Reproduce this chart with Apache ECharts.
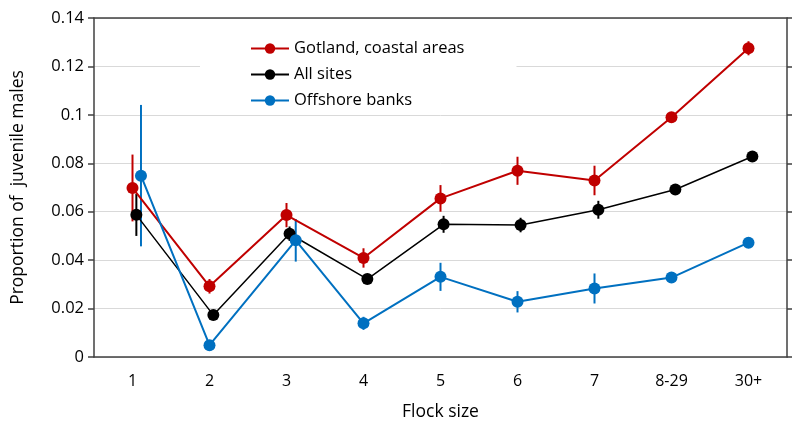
<!DOCTYPE html>
<html>
<head>
<meta charset="utf-8">
<script src="https://cdn.jsdelivr.net/npm/echarts@6/dist/echarts.min.js"></script>
<style>
  html, body { margin: 0; padding: 0; background: #fff; }
  #chart { width: 795px; height: 421px; }
</style>
</head>
<body>
<div id="chart"></div>
<script>
// Flock size classes
const categories = ['1', '2', '3', '4', '5', '6', '7', '8-29', '30+'];

// Proportion of juvenile males, with half-length of the error bar
const gotland = [0.0698, 0.0292, 0.0586, 0.0409, 0.0655, 0.0769, 0.0729, 0.0990, 0.1275];
const gotlandErr = [0.0138, 0.0030, 0.0050, 0.0040, 0.0055, 0.0058, 0.0061, 0.0008, 0.0029];

const allSites = [0.0587, 0.0173, 0.0509, 0.0322, 0.0548, 0.0545, 0.0608, 0.0692, 0.0828];
const allSitesErr = [0.0087, 0.0010, 0.0030, 0.0010, 0.0035, 0.0030, 0.0037, 0.0010, 0.0010];

const offshore = [0.0749, 0.0049, 0.0482, 0.0139, 0.0331, 0.0228, 0.0283, 0.0328, 0.0472];
const offshoreErr = [0.0292, 0.0010, 0.0088, 0.0027, 0.0058, 0.0044, 0.0062, 0.0010, 0.0022];

const yTicks = { min: 0, max: 0.14, step: 0.02 };

// Small horizontal nudges (in category units) so overlapping points stay readable
const nudge = {
  gotland: [0, 0, 0, 0, 0, 0, 0, 0, 0],
  allSites: [0.05, 0.05, 0.04, 0.05, 0.04, 0.04, 0.05, 0.05, 0.05],
  offshore: [0.11, 0, 0.12, 0, 0, 0, 0, 0, 0]
};

const FONT = 'Open Sans';
const AXIS_COLOR = '#404040';

function points(vals, off) {
  return vals.map((v, i) => [i + off[i], v]);
}
function errPoints(vals, errs, off) {
  return vals.map((v, i) => [i + off[i], v, errs[i]]);
}

function errorBars(name, color, vals, errs, off) {
  return {
    type: 'custom',
    name: name + ' error',
    xAxisIndex: 1,
    yAxisIndex: 0,
    silent: true,
    legendHoverLink: false,
    data: errPoints(vals, errs, off),
    renderItem: function (params, api) {
      const x = api.value(0), y = api.value(1), e = api.value(2);
      const top = api.coord([x, y + e]);
      const bot = api.coord([x, y - e]);
      return {
        type: 'line',
        shape: { x1: top[0], y1: top[1], x2: bot[0], y2: bot[1] },
        style: { stroke: color, lineWidth: 2 }
      };
    },
    z: 2
  };
}

function lineSeries(name, color, vals, off, lw) {
  return {
    type: 'line',
    name: name,
    xAxisIndex: 1,
    yAxisIndex: 0,
    data: points(vals, off),
    symbol: 'circle',
    symbolSize: 12,
    showSymbol: true,
    lineStyle: { color: color, width: lw },
    itemStyle: { color: color },
    emphasis: { disabled: true },
    animation: false,
    z: 3
  };
}

const chart = echarts.init(document.getElementById('chart'), null, { renderer: 'canvas' });

chart.setOption({
  animation: false,
  backgroundColor: '#fff',
  textStyle: { fontFamily: FONT },
  grid: { left: 94, right: 8, top: 18, bottom: 64, containLabel: false, outerBoundsMode: 'none' },
  legend: {
    orient: 'vertical',
    left: 200,
    top: 34,
    padding: [6, 52, 6, 50],
    backgroundColor: '#fff',
    itemWidth: 38,
    itemHeight: 13,
    itemGap: 9,
    textStyle: { fontFamily: FONT, fontSize: 16.5, color: '#000' },
    data: ['Gotland, coastal areas', 'All sites', 'Offshore banks']
  },
  xAxis: [
    {
      type: 'category',
      data: categories,
      position: 'bottom',
      boundaryGap: true,
      axisLine: { show: true, onZero: false, lineStyle: { color: AXIS_COLOR, width: 1.5 } },
      axisTick: { show: false },
      axisLabel: { fontFamily: FONT, fontSize: 16, color: '#000', margin: 16 },
      splitLine: { show: false },
      name: 'Flock size',
      nameLocation: 'middle',
      nameGap: 46,
      nameTextStyle: { fontFamily: FONT, fontSize: 17.5, color: '#000' }
    },
    {
      type: 'value',
      min: -0.5,
      max: 8.5,
      show: false
    },
    {
      type: 'category',
      data: categories,
      position: 'top',
      axisLine: { show: true, onZero: false, lineStyle: { color: AXIS_COLOR, width: 1.5 } },
      axisTick: { show: false },
      axisLabel: { show: false },
      splitLine: { show: false }
    }
  ],
  yAxis: [
    {
      type: 'value',
      position: 'left',
      min: yTicks.min,
      max: yTicks.max,
      interval: yTicks.step,
      axisLine: { show: true, onZero: false, lineStyle: { color: AXIS_COLOR, width: 1.5 } },
      axisTick: { show: true, length: 6, lineStyle: { color: AXIS_COLOR, width: 1.5 } },
      axisLabel: { fontFamily: FONT, fontSize: 16.5, color: '#000', margin: 10 },
      splitLine: { show: true, lineStyle: { color: '#d9d9d9', width: 1 } },
      name: 'Proportion of  juvenile males',
      nameLocation: 'middle',
      nameGap: 67,
      nameRotate: 90,
      nameTextStyle: { fontFamily: FONT, fontSize: 17.5, color: '#000' }
    },
    {
      type: 'value',
      position: 'right',
      min: yTicks.min,
      max: yTicks.max,
      interval: yTicks.step,
      axisLine: { show: true, onZero: false, lineStyle: { color: AXIS_COLOR, width: 1.5 } },
      axisTick: { show: true, length: 5, lineStyle: { color: AXIS_COLOR, width: 1.5 } },
      axisLabel: { show: false },
      splitLine: { show: false }
    }
  ],
  series: [
    errorBars('Gotland, coastal areas', '#C00000', gotland, gotlandErr, nudge.gotland),
    lineSeries('Gotland, coastal areas', '#C00000', gotland, nudge.gotland, 2),
    errorBars('All sites', '#000000', allSites, allSitesErr, nudge.allSites),
    lineSeries('All sites', '#000000', allSites, nudge.allSites, 1.5),
    errorBars('Offshore banks', '#0070C0', offshore, offshoreErr, nudge.offshore),
    lineSeries('Offshore banks', '#0070C0', offshore, nudge.offshore, 2)
  ]
});
</script>
</body>
</html>
